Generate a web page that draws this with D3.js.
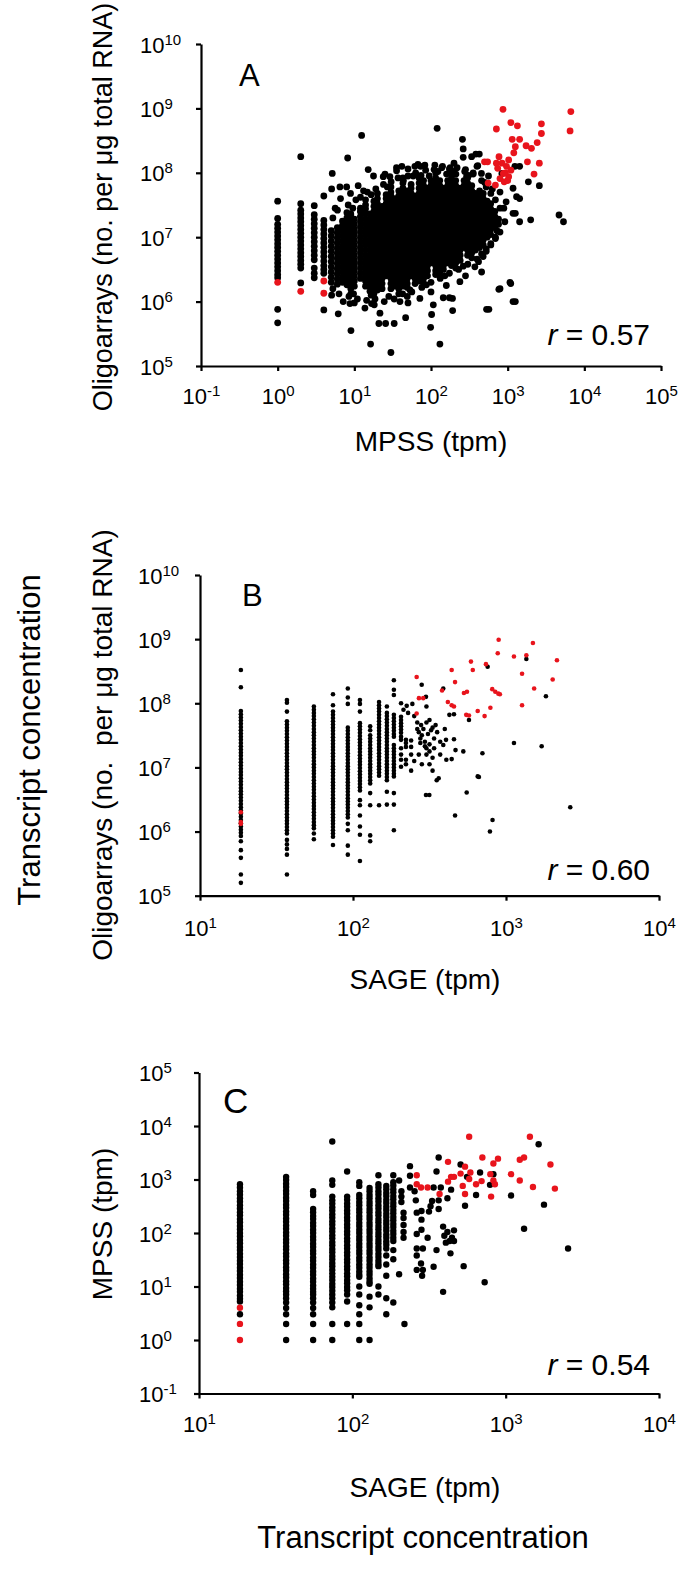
<!DOCTYPE html>
<html><head><meta charset="utf-8">
<script src="https://cdn.jsdelivr.net/npm/d3@7"></script>
<style>
body{margin:0;background:#fff}
svg{display:block}
</style></head><body>
<script>
// ================= DATA =================
// ---- Panel A : MPSS (tpm) vs Oligoarrays (log10 copies per ug) ----
const aXTickExp = [-1,0,1,2,3,4,5];
const aYTickExp = [5,6,7,8,9,10];
const aColumnMPSS = [1,2,3,4,5,6,7,8,9,10,12,14,16,18,20,23,26,30,34,38,43,49,55,62,70,80,90,100,115,130,145,165,185,210,240,270,300,340,380,430,480,540,600,680,760];
const aColumnOligoLog10 = [
[7.56,7.29,7.2,7.14,7.08,7.02,6.96,6.9,6.84,6.78,6.72,6.66,6.6,6.54,6.48,6.42,6.37,5.88,5.67],
[8.25,7.52,7.42,7.36,7.3,7.24,7.18,7.12,7.06,7.0,6.94,6.88,6.82,6.76,6.7,6.64,6.58,6.52,6.29],
[7.49,7.35,7.28,7.21,7.14,7.07,7.0,6.93,6.86,6.79,6.72,6.65,6.52,6.44,6.37],
[7.64,7.26,7.19,7.12,7.05,6.98,6.91,6.84,6.77,6.7,6.63,6.56,6.5,6.44,5.87],
[6.3,6.38,6.46,6.54,6.62,6.7,6.78,6.86,6.94,7.02,7.1],
[6.27,6.35,6.43,6.51,6.59,6.67,6.75,6.83,6.91,6.99,7.07,7.15],
[6.3,6.38,6.46,6.54,6.62,6.7,6.78,6.86,6.94,7.02,7.1,7.18,7.25],
[6.26,6.34,6.42,6.5,6.58,6.66,6.74,6.82,6.9,6.98,7.06,7.14,7.22,7.3,7.38],
[6.12,6.2,6.28,6.36,6.44,6.52,6.6,6.68,6.76,6.84,6.92,7.0,7.08,7.16,7.24,7.32,7.36],
[6.24,6.32,6.4,6.48,6.56,6.64,6.72,6.8,6.88,6.96,7.04,7.12,7.2,7.28],
[6.36,6.44,6.52,6.6,6.68,6.76,6.84,6.92,7.0,7.08,7.16,7.24,7.32,7.4,7.45],
[6.24,6.32,6.4,6.48,6.56,6.64,6.72,6.8,6.88,6.96,7.04,7.12,7.2,7.28,7.36,7.44,7.5,7.58],
[6.16,6.24,6.32,6.4,6.48,6.56,6.64,6.72,6.8,6.88,6.96,7.04,7.12,7.2,7.28,7.36],
[6.12,6.2,6.28,6.36,6.44,6.52,6.6,6.68,6.76,6.84,6.92,7.0,7.08,7.16,7.24,7.32,7.4,7.48,7.56],
[6.18,6.24,6.32,6.4,6.48,6.56,6.64,6.72,6.8,6.88,6.96,7.04,7.12,7.2,7.28,7.36,7.44,7.52,7.6,7.68],
[6.2,6.28,6.36,6.44,6.52,6.6,6.68,6.76,6.84,6.92,7.0,7.08,7.16,7.24,7.32,7.4,7.48],
[6.4,6.48,6.56,6.64,6.72,6.8,6.88,6.96,7.04,7.12,7.2,7.28,7.36,7.44,7.52,7.6,7.66],
[6.2,6.28,6.36,6.44,6.52,6.6,6.68,6.76,6.84,6.92,7.0,7.08,7.16,7.24,7.32,7.4,7.48,7.56,7.64,7.7,7.78],
[6.24,6.32,6.4,6.48,6.56,6.64,6.72,6.8,6.88,6.96,7.04,7.12,7.2,7.28,7.36,7.44,7.52,7.6],
[6.12,6.2,6.28,6.36,6.44,6.52,6.6,6.68,6.76,6.84,6.92,7.0,7.08,7.16,7.24,7.32,7.4,7.48,7.56,7.64,7.72],
[6.24,6.32,6.4,6.48,6.56,6.64,6.72,6.8,6.88,6.96,7.04,7.12,7.2,7.28,7.36,7.44,7.52,7.6,7.68,7.76,7.84,7.92],
[6.22,6.28,6.36,6.44,6.52,6.6,6.68,6.76,6.84,6.92,7.0,7.08,7.16,7.24,7.32,7.4,7.48,7.56,7.64,7.72],
[6.4,6.48,6.56,6.64,6.72,6.8,6.88,6.96,7.04,7.12,7.2,7.28,7.36,7.44,7.52,7.6,7.68,7.76,7.82],
[6.28,6.36,6.44,6.52,6.6,6.68,6.76,6.84,6.92,7.0,7.08,7.16,7.24,7.32,7.4,7.48,7.56,7.64],
[6.32,6.4,6.48,6.56,6.64,6.72,6.8,6.88,6.96,7.04,7.12,7.2,7.28,7.36,7.44,7.52,7.6,7.68,7.76,7.84,7.92],
[6.28,6.36,6.44,6.52,6.6,6.68,6.76,6.84,6.92,7.0,7.08,7.16,7.24,7.32,7.4,7.48,7.56,7.64,7.72,7.8,7.88],
[6.4,6.48,6.56,6.64,6.72,6.8,6.88,6.96,7.04,7.12,7.2,7.28,7.36,7.44,7.52,7.6,7.68,7.76],
[6.6,6.68,6.76,6.84,6.92,7.0,7.08,7.16,7.24,7.32,7.4,7.48,7.56,7.64,7.72,7.8,7.88],
[6.42,6.48,6.56,6.64,6.72,6.8,6.88,6.96,7.04,7.12,7.2,7.28,7.36,7.44,7.52,7.6,7.68,7.76,7.84,7.92,8.0],
[6.4,6.46,6.52,6.6,6.68,6.76,6.84,6.92,7.0,7.08,7.16,7.24,7.32,7.4,7.48,7.56,7.64,7.72,7.8,7.88],
[6.5,6.56,6.64,6.72,6.8,6.88,6.96,7.04,7.12,7.2,7.28,7.36,7.44,7.52,7.6,7.68,7.76],
[6.6,6.68,6.76,6.84,6.92,7.0,7.08,7.16,7.24,7.32,7.4,7.48,7.56,7.64,7.72,7.8,7.88],
[6.56,6.64,6.72,6.8,6.88,6.96,7.04,7.12,7.2,7.28,7.36,7.44,7.52,7.6,7.68,7.76,7.84,7.92,8.0],
[6.52,6.6,6.68,6.76,6.84,6.92,7.0,7.08,7.16,7.24,7.32,7.4,7.48,7.56,7.64,7.72,7.8,7.88],
[6.64,6.72,6.8,6.88,6.96,7.04,7.12,7.2,7.28,7.36,7.44,7.52,7.6,7.68,7.76],
[6.84,6.92,7.0,7.08,7.16,7.24,7.32,7.4,7.48,7.56,7.64,7.72,7.8,7.88],
[6.72,6.8,6.88,6.96,7.04,7.12,7.2,7.28,7.36,7.44,7.52,7.6,7.68,7.76,7.84,7.92],
[6.68,6.76,6.84,6.92,7.0,7.08,7.16,7.24,7.32,7.4,7.48,7.56,7.64,7.72,7.8],
[6.8,6.88,6.96,7.04,7.12,7.2,7.28,7.36,7.44,7.52,7.6,7.68],
[6.84,6.92,7.0,7.08,7.16,7.24,7.32,7.4,7.48,7.56,7.64,7.72],
[6.88,6.96,7.04,7.12,7.2,7.28,7.36,7.44,7.52,7.6,7.68],
[7.0,7.08,7.16,7.24,7.32,7.4,7.48,7.56],
[7.04,7.12,7.2,7.28,7.36,7.44,7.52],
[7.16,7.24,7.32,7.4],
[7.2,7.28]
];
// isolated black points: [log10 MPSS, log10 oligo]
const aScatterLog10 = [
[1.095,8.58],[2.08,8.69],[0.913,8.23],[2.41,8.52],[2.42,8.37],[2.42,8.24],[2.585,8.29],[2.53,8.25],
[0.712,7.99],[1.181,8.05],[1.377,7.94],[1.464,7.94],[1.551,8.03],[1.79,8.1],[1.864,8.1],[1.768,7.95],[1.977,7.95],[2.203,7.98],[2.325,7.98],[2.464,7.94],
[0.704,7.75],[0.812,7.78],[0.9,7.78],
[3.094,8.1],[3.07,7.76],[3.116,7.63],[2.963,7.24],[3.07,7.37],
[0.79,5.81],[0.956,5.55],[1.212,5.34],[1.32,5.66],[1.408,5.66],[1.52,5.66],[1.477,5.21],[1.669,5.75],[1.595,6.0],[1.995,5.6],[2.008,5.8],[2.116,5.34],[2.282,5.86],[2.16,6.06],[2.24,6.06],[2.03,5.95],[2.725,5.88],[2.885,6.19],[3.03,6.3],[3.07,6.0],[2.377,6.31],[2.28,6.05],[1.138,5.9],[1.225,5.97],[0.855,6.0],[0.943,5.97],[0.704,6.1],[1.334,5.82],[1.855,6.05],[1.725,6.18],[2.66,6.46],[2.572,6.54],
[3.67,7.345],[3.728,7.24],[3.27,7.86],[3.413,7.8],[3.156,7.6],[3.3,7.27],[3.156,7.24],[3.1,7.37],[2.9,7.7],[3.04,6.28],[3.1,6.0],[2.9,6.2],[2.755,5.88],[3.156,8.1],[2.925,7.99],[2.63,8.29],[2.61,8.11],[2.658,7.99],
[0.75,7.45],[0.82,7.6],[0.95,7.68],[1.05,7.8],[1.12,7.72],[1.25,7.95],[1.4,7.98],[1.55,8.08],[1.62,8.1],[1.7,8.06],[1.83,8.13],[1.92,8.12],[2.05,8.12],[2.15,8.1],[2.25,8.08],[2.3,8.15],[2.45,8.05],[2.55,8.0],[2.7,7.85],[2.8,7.75],[2.75,7.95],[2.6,8.1],
[0.72,7.3],[0.78,7.42],[0.92,7.5],[0.98,7.45],[1.02,7.58],[1.08,7.62],[1.17,7.7],[1.22,7.66],[1.28,7.75],[1.38,7.82],[1.43,7.78],[1.48,7.86],[1.57,7.92],[1.64,7.88],[1.7,7.95],[1.8,8.0],[1.87,7.96],[1.93,8.04],[2.04,8.05],[2.09,8.02],[2.14,8.08],[2.24,8.06],[2.29,8.02],[2.34,8.08],[2.44,8.02],[2.49,7.96],[2.55,7.98],[2.66,7.88],[2.72,7.78],[2.78,7.68],[2.84,7.58],[2.9,7.45],
[0.72,6.2],[0.8,6.12],[0.93,6.08],[0.99,6.12],[1.04,6.04],[1.16,6.02],[1.22,6.1],[1.27,6.04],[1.39,6.0],[1.45,6.08],[1.52,6.04],[1.63,6.12],[1.69,6.08],[1.75,6.15],[1.88,6.22],[1.94,6.26],[2.0,6.3],[2.12,6.36],[2.18,6.4],[2.24,6.44],[2.36,6.5],[2.42,6.55],[2.48,6.58],[2.6,6.66],[2.66,6.74],[2.72,6.82],[2.78,6.9],[2.84,6.98],[2.9,7.08],
[1.0,5.98],[1.26,5.95],[1.7,5.98],[2.0,6.15],[2.2,6.25],[2.45,6.4],
[2.62,6.62],[2.68,6.7],[2.72,6.78],[2.78,6.88],[2.84,7.0],[2.86,7.1],[2.95,7.45],[2.98,7.55]
];
const aRedLog10 = [
[0,6.3],[0.301,6.16],[0.602,6.32],[0.602,6.13],
[2.939,8.986],[2.853,8.68],[3.042,8.78],[3.127,8.73],[3.059,8.52],[3.156,8.52],[3.1,8.405],[3.08,8.31],[3.24,8.42],[3.385,8.47],[3.31,8.38],[3.44,8.76],[3.44,8.61],[3.824,8.95],[3.814,8.65],[2.698,8.17],[2.738,8.17],[2.887,8.25],[2.853,8.15],[2.927,8.15],[3.013,8.2],[2.87,8.07],[2.985,8.1],[3.042,8.04],[2.944,7.99],[3.013,7.94],[2.9,7.91],[2.745,7.84],[2.955,7.86],[2.84,7.81],[3.258,8.17],[3.413,8.15],[3.344,7.98],[2.97,8.0],[3.0,7.88]
];

// ---- SAGE tag columns (tpm), shared by panels B and C ----
const sageColumns = [18.5,37,55.5,74,92.5,111,129.5,148,166.5,185];

// ---- Panel B : SAGE vs Oligoarrays ----
const bXTickExp = [1,2,3,4];
const bYTickExp = [5,6,7,8,9,10];
const bColumnOligoLog10 = [
[8.52,8.25,7.88,7.83,7.78,7.73,7.68,7.63,7.58,7.53,7.48,7.43,7.38,7.33,7.28,7.23,7.18,7.13,7.08,7.03,6.98,6.93,6.88,6.83,6.78,6.73,6.68,6.63,6.58,6.53,6.48,6.43,6.38,6.33,6.28,6.23,6.18,6.13,6.08,6.03,5.98,5.93,5.85,5.71,5.59,5.33,5.2],
[8.05,8.01,7.87,7.72,7.67,7.62,7.57,7.52,7.47,7.42,7.37,7.32,7.27,7.22,7.17,7.12,7.07,7.02,6.97,6.92,6.87,6.82,6.77,6.72,6.67,6.62,6.57,6.52,6.47,6.42,6.37,6.32,6.27,6.22,6.17,6.12,6.07,6.02,5.97,5.87,5.8,5.73,5.64,5.33],
[7.95,7.9,7.85,7.8,7.75,7.7,7.65,7.6,7.55,7.5,7.45,7.4,7.35,7.3,7.25,7.2,7.15,7.1,7.05,7.0,6.95,6.9,6.85,6.8,6.75,6.7,6.65,6.6,6.55,6.5,6.45,6.4,6.35,6.3,6.25,6.2,6.15,6.1,6.05,5.97,5.88],
[8.14,7.97,7.87,7.82,7.77,7.72,7.67,7.62,7.57,7.52,7.47,7.42,7.37,7.32,7.27,7.22,7.17,7.12,7.07,7.02,6.97,6.92,6.87,6.82,6.77,6.72,6.67,6.62,6.57,6.52,6.47,6.42,6.37,6.32,6.27,6.22,6.17,6.12,6.07,6.02,5.97,5.92,5.79],
[8.23,8.09,7.99,7.62,7.57,7.52,7.47,7.42,7.37,7.32,7.27,7.22,7.17,7.12,7.07,7.02,6.97,6.92,6.87,6.82,6.77,6.72,6.67,6.62,6.57,6.52,6.47,6.42,6.37,6.32,6.27,6.22,6.12,6.02,5.78,5.64],
[8.05,7.99,7.87,7.69,7.64,7.59,7.54,7.49,7.44,7.39,7.34,7.29,7.24,7.19,7.14,7.09,7.04,6.99,6.94,6.89,6.84,6.79,6.74,6.69,6.64,6.49,6.41,6.25,6.08,5.95,5.54],
[7.64,7.58,7.5,7.45,7.4,7.35,7.3,7.25,7.2,7.15,7.1,7.05,7.0,6.95,6.9,6.85,6.8,6.75,6.6,6.41,5.94,5.85],
[8.02,7.97,7.92,7.87,7.82,7.77,7.72,7.67,7.62,7.57,7.52,7.47,7.42,7.37,7.32,7.27,7.22,7.17,7.12,7.07,7.02,6.97,6.92,6.87,6.41],
[7.95,7.85,7.8,7.75,7.7,7.65,7.6,7.55,7.5,7.45,7.4,7.35,7.3,7.25,7.2,7.15,7.1,7.05,7.0,6.95,6.9,6.85,6.8,6.62,6.42],
[8.36,8.21,8.13,7.82,7.77,7.72,7.67,7.62,7.57,7.52,7.48,7.35,7.3,7.25,7.2,7.15,7.1,7.05,7.0,6.95,6.9,6.86,6.6,6.42,6.02]
];
const bScatterLog10 = [
[2.314,8.0],[2.351,7.96],[2.388,7.99],
[2.314,7.79],[2.314,7.74],[2.314,7.69],[2.314,7.64],[2.314,7.59],[2.314,7.54],[2.314,7.48],[2.314,7.43],[2.314,7.3],[2.314,7.2],[2.314,7.12],[2.314,7.01],
[2.346,7.43],[2.346,7.38],[2.346,7.32],[2.346,7.12],[2.346,7.05],
[2.38,7.42],[2.38,7.32],[2.38,7.2],
[2.449,8.29],[2.477,8.1],[2.48,7.95],
[2.42,7.7],[2.445,7.66],[2.46,7.6],[2.48,7.7],[2.5,7.74],[2.52,7.62],[2.54,7.66],
[2.43,7.55],[2.45,7.5],[2.49,7.52],[2.51,7.58],[2.53,7.45],
[2.44,7.38],[2.47,7.33],[2.48,7.3],[2.5,7.36],
[2.43,7.2],[2.48,7.2],[2.52,7.15],[2.57,7.2],[2.61,7.12],
[2.547,6.8],[2.477,6.57],[2.499,6.57],[2.667,6.25],[2.59,8.23],[2.63,7.82],[2.721,7.25],[2.645,7.13],[2.815,6.86],[2.743,6.61],[2.59,7.35],[2.608,7.43],
[2.66,7.83],[2.66,7.44],[2.67,7.27],[2.56,6.83],[2.758,7.74],[2.846,7.22],[2.88,8.57],[2.823,6.85],[2.912,6.18],[2.895,6.0],[3.052,7.38],[3.133,8.69],[3.233,7.33],[3.261,8.11],[3.42,6.38],[2.52,6.95],[2.5,7.05],
[2.33,7.9],[2.36,7.85],[2.4,7.8],[2.42,7.6],[2.44,7.45],[2.47,7.4],[2.5,7.25],[2.53,7.3],[2.55,7.55],[2.57,7.4],[2.6,7.6],[2.4,7.1],[2.45,7.05],[2.38,6.95]
];
const bRedLog10 = [
[1.267,6.3],[1.267,6.15],[1.267,6.12],
[2.416,8.41],[2.431,8.08],[2.459,8.08],[2.416,7.84],[2.582,8.2],[2.62,8.02],[2.645,7.97],[2.66,7.95],[2.645,8.52],[2.667,8.33],[2.725,8.16],[2.745,8.18],[2.74,7.82],[2.758,7.81],[2.771,8.65],[2.783,8.52],[2.815,7.88],[2.86,7.8],[2.869,8.61],[2.898,7.93],[2.91,8.22],[2.93,8.18],[2.95,8.15],[2.96,8.14],[2.946,8.78],[2.952,8.99],[3.052,8.73],[3.105,8.46],[3.105,7.97],[3.133,8.75],[3.176,8.94],[3.184,8.23],[3.305,8.37],[3.333,8.67]
];

// ---- Panel C : SAGE vs MPSS ----
const cXTickExp = [1,2,3,4];
const cYTickExp = [-1,0,1,2,3,4,5];
const cColumnMPSSLog10 = [
[2.91,2.85,2.78,2.72,2.65,2.59,2.52,2.46,2.39,2.33,2.26,2.2,2.13,2.07,2.0,1.94,1.87,1.81,1.74,1.68,1.61,1.55,1.48,1.42,1.35,1.29,1.22,1.16,1.09,1.03,0.96,0.9,0.83,0.77,0.72,0.48],
[3.05,2.99,2.92,2.86,2.79,2.73,2.66,2.6,2.53,2.47,2.4,2.34,2.27,2.21,2.14,2.08,2.01,1.95,1.88,1.82,1.75,1.69,1.62,1.56,1.49,1.43,1.36,1.3,1.23,1.17,1.1,1.04,0.97,0.91,0.85,0.78,0.7,0.6,0.48,0.3,0],
[2.78,2.71,2.45,2.39,2.32,2.26,2.19,2.13,2.06,2.0,1.93,1.87,1.8,1.74,1.67,1.61,1.54,1.48,1.41,1.35,1.28,1.22,1.15,1.09,1.02,0.96,0.9,0.85,0.78,0.7,0.6,0.48,0.3,0],
[3.71,2.98,2.9,2.68,2.61,2.55,2.48,2.42,2.35,2.29,2.22,2.16,2.09,2.03,1.96,1.9,1.83,1.77,1.7,1.64,1.57,1.51,1.44,1.38,1.31,1.25,1.18,1.12,1.05,0.99,0.92,0.85,0.78,0.7,0.61,0.3,0],
[3.15,2.68,2.62,2.55,2.49,2.42,2.36,2.29,2.23,2.16,2.1,2.03,1.97,1.9,1.84,1.77,1.71,1.64,1.58,1.51,1.45,1.38,1.32,1.25,1.19,1.12,1.06,0.99,0.93,0.85,0.72,0.3],
[2.95,2.88,2.71,2.65,2.58,2.52,2.45,2.39,2.32,2.26,2.19,2.13,2.06,2.0,1.93,1.87,1.8,1.74,1.67,1.61,1.54,1.48,1.41,1.35,1.28,1.22,1.18,1.0,0.85,0.65,0.48,0.3,0],
[2.84,2.78,2.71,2.65,2.58,2.52,2.45,2.39,2.32,2.26,2.19,2.13,2.06,2.0,1.93,1.87,1.8,1.74,1.67,1.61,1.54,1.48,1.41,1.35,1.28,1.22,1.15,1.09,1.05,0.81,0.61,0],
[3.08,2.91,2.85,2.78,2.72,2.65,2.59,2.52,2.46,2.39,2.33,2.26,2.2,2.13,2.07,2.0,1.94,1.87,1.81,1.74,1.68,1.61,1.55,1.48,1.42,1.38,1.0,0.85],
[2.88,2.82,2.75,2.69,2.62,2.56,2.49,2.43,2.36,2.3,2.23,2.17,2.1,2.04,1.97,1.91,1.84,1.78,1.71,1.58,1.41,1.2,0.78,0.48],
[3.08,2.95,2.89,2.82,2.76,2.69,2.63,2.56,2.5,2.43,2.37,2.3,2.24,2.17,2.11,2.04,1.98,1.91,1.85,1.68,1.51,0.7]
];
const cScatterLog10 = [
[2.305,2.98],[2.32,2.78],[2.32,2.68],[2.32,2.58],[2.334,2.38],[2.334,2.28],[2.334,2.15],[2.334,2.02],[2.334,1.91],[2.305,1.23],
[2.376,2.85],[2.376,3.25],[2.376,3.07],[2.406,2.78],[2.414,2.61],[2.42,2.38],[2.42,1.98],[2.42,1.71],[2.42,1.58],[2.448,1.43],[2.42,1.31],[2.34,0.3],
[2.451,2.41],[2.451,2.25],[2.451,2.06],[2.46,1.71],[2.491,1.91],[2.5,2.4],[2.51,2.5],[2.52,2.6],[2.53,2.85],[2.46,1.31],[2.455,1.2],
[2.563,3.41],[2.549,3.15],[2.563,2.61],[2.563,2.45],[2.592,2.12],[2.6,1.95],[2.61,1.82],[2.62,2.02],[2.65,1.91],[2.635,1.85],[2.663,1.85],[2.592,0.9],[2.549,1.68],[2.53,1.37],
[2.726,1.38],[2.735,2.51],[2.706,3.28],[2.748,3.05],[2.807,2.71],[2.833,3.13],[2.863,1.08],[2.898,2.9],[3.035,2.7],[3.12,2.08],[3.215,3.66],[3.25,2.53],[3.407,1.71],[2.577,2.85],[2.62,2.65],[2.644,2.81],[2.663,2.05],[2.64,1.62],[2.92,3.1]
];
const cRedLog10 = [
[1.267,0.602],[1.267,0.301],[1.267,0],
[2.42,3.08],[2.42,2.91],[2.448,2.85],[2.491,2.85],[2.569,2.73],[2.624,3.33],[2.644,3.05],[2.663,3.05],[2.624,2.96],[2.706,3.11],[2.72,2.88],[2.735,2.73],[2.762,3.8],[2.77,3.13],[2.762,3.01],[2.735,3.24],[2.807,2.91],[2.843,2.97],[2.848,3.41],[2.9,3.1],[2.905,2.68],[2.92,2.98],[2.93,2.91],[2.95,3.39],[3.035,3.1],[3.092,2.98],[3.092,3.37],[3.12,3.41],[3.158,3.8],[3.178,2.86],[3.292,3.28],[3.321,2.83],[2.92,3.3]
];

// ================= DRAWING =================
const W = 685, H = 1577;
const FONT = '"Liberation Sans", Arial, Helvetica, sans-serif';
const RED = '#e8141c';
const svg = d3.select('body').append('svg').attr('width', W).attr('height', H)
  .attr('font-family', FONT);
svg.append('rect').attr('width', W).attr('height', H).attr('fill', '#fff');

const p10 = v => Math.pow(10, v);

function drawPanel(p) {
  const x = d3.scaleLog().domain(p.xDomain).range(p.xRange);
  const y = d3.scaleLog().domain(p.yDomain).range(p.yRange);
  const g = svg.append('g');

  const black = [];
  p.colX.forEach((cx, i) => p.colY[i].forEach(v => black.push([cx, p10(v)])));
  p.scatter.forEach(d => black.push([p10(d[0]), p10(d[1])]));
  const red = p.red.map(d => [p10(d[0]), p10(d[1])]);

  g.append('g').selectAll('circle').data(black).join('circle')
    .attr('cx', d => x(d[0])).attr('cy', d => y(d[1])).attr('r', p.r).attr('fill', '#000');
  g.append('g').selectAll('circle').data(red).join('circle')
    .attr('cx', d => x(d[0])).attr('cy', d => y(d[1])).attr('r', p.r).attr('fill', RED);

  // x axis
  const gx = g.append('g').attr('transform', `translate(0,${p.yRange[0]})`)
    .call(d3.axisBottom(x).tickValues(p.xTicks.map(p10)).tickSizeInner(5).tickSizeOuter(0));
  gx.selectAll('path,line').attr('stroke', '#000').attr('stroke-width', 2.2);
  gx.selectAll('.tick text').each(function(d, i) {
    const t = d3.select(this).text(null).attr('y', p.xTickBase - p.yRange[0]).attr('dy', null)
      .attr('text-anchor', 'middle').attr('font-size', 22).attr('fill', '#000').attr('font-family', FONT);
    t.append('tspan').text('10');
    t.append('tspan').attr('dy', -8).attr('font-size', 15).text(String(p.xTicks[i]));
  });

  // y axis
  const gy = g.append('g').attr('transform', `translate(${p.xRange[0]},0)`)
    .call(d3.axisLeft(y).tickValues(p.yTicks.map(p10)).tickSizeInner(5).tickSizeOuter(0));
  gy.selectAll('path,line').attr('stroke', '#000').attr('stroke-width', 2.2);
  gy.selectAll('.tick text').each(function(d, i) {
    const t = d3.select(this).text(null).attr('x', p.yTickX - p.xRange[0]).attr('y', 8).attr('dy', null)
      .attr('text-anchor', 'start').attr('font-size', 22).attr('fill', '#000').attr('font-family', FONT);
    t.append('tspan').text('10');
    t.append('tspan').attr('dy', -8).attr('font-size', 15).text(String(p.yTicks[i]));
  });

  // panel letter
  g.append('text').attr('x', p.letterPos[0]).attr('y', p.letterPos[1])
    .attr('font-size', p.letterSize).text(p.letter);

  // correlation
  const rt = g.append('text').attr('x', p.rPos[0]).attr('y', p.rPos[1])
    .attr('text-anchor', 'end').attr('font-size', 30).style('white-space', 'pre');
  rt.append('tspan').attr('font-style', 'italic').text('r');
  rt.append('tspan').text(' = ' + p.rValue);

  // axis titles
  g.append('text').attr('x', p.xTitlePos[0]).attr('y', p.xTitlePos[1])
    .attr('text-anchor', 'middle').attr('font-size', 28).text(p.xTitle);
  g.append('text').attr('transform', `translate(${p.yTitlePos[0]},${p.yTitlePos[1]}) rotate(-90)`)
    .attr('text-anchor', 'middle').attr('font-size', p.yTitleSize).style('white-space', 'pre').text(p.yTitle);
}

drawPanel({
  xDomain: [0.1, 1e5], xRange: [201, 661],
  yDomain: [1e5, 1e10], yRange: [366, 44],
  xTicks: aXTickExp, yTicks: aYTickExp, yTickX: 140, xTickBase: 404,
  colX: aColumnMPSS, colY: aColumnOligoLog10, scatter: aScatterLog10, red: aRedLog10, r: 3.4,
  letter: 'A', letterPos: [239, 86], letterSize: 31,
  rValue: '0.57', rPos: [650, 345],
  xTitle: 'MPSS (tpm)', xTitlePos: [431, 451],
  yTitle: 'Oligoarrays (no. per \u03bcg total RNA)', yTitlePos: [112, 207], yTitleSize: 27
});

drawPanel({
  xDomain: [10, 1e4], xRange: [200, 659],
  yDomain: [1e5, 1e10], yRange: [895.7, 575],
  xTicks: bXTickExp, yTicks: bYTickExp, yTickX: 138, xTickBase: 936,
  colX: sageColumns, colY: bColumnOligoLog10, scatter: bScatterLog10, red: bRedLog10, r: 2.3,
  letter: 'B', letterPos: [242, 606], letterSize: 31,
  rValue: '0.60', rPos: [650, 880],
  xTitle: 'SAGE (tpm)', xTitlePos: [425, 989],
  yTitle: 'Oligoarrays (no.  per \u03bcg total RNA)', yTitlePos: [112, 745], yTitleSize: 28
});

drawPanel({
  xDomain: [10, 1e4], xRange: [199, 659],
  yDomain: [0.1, 1e5], yRange: [1393.5, 1072.5],
  xTicks: cXTickExp, yTicks: cYTickExp, yTickX: 139, xTickBase: 1432,
  colX: sageColumns, colY: cColumnMPSSLog10, scatter: cScatterLog10, red: cRedLog10, r: 3.2,
  letter: 'C', letterPos: [223, 1113], letterSize: 35,
  rValue: '0.54', rPos: [650, 1375],
  xTitle: 'SAGE (tpm)', xTitlePos: [425, 1497],
  yTitle: 'MPSS (tpm)', yTitlePos: [112, 1224], yTitleSize: 28
});

// shared titles
svg.append('text').attr('transform', 'translate(40,740) rotate(-90)')
  .attr('text-anchor', 'middle').attr('font-size', 31).text('Transcript concentration');
svg.append('text').attr('x', 423).attr('y', 1548)
  .attr('text-anchor', 'middle').attr('font-size', 31).text('Transcript concentration');
</script>
</body></html>
